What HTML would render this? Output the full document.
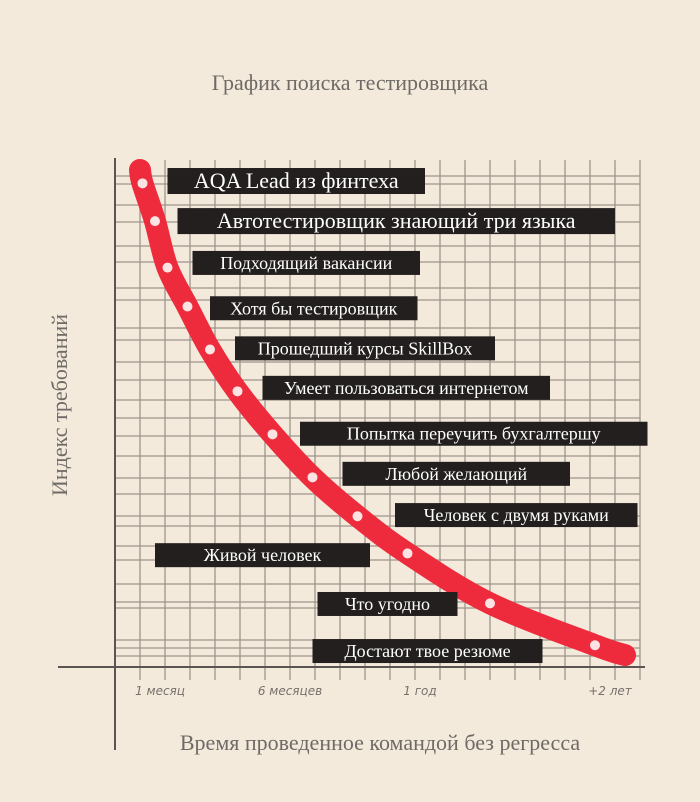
<!DOCTYPE html>
<html><head><meta charset="utf-8"><style>
body{margin:0;width:700px;height:802px;background:#f4eadc;overflow:hidden}
svg{display:block}
</style></head><body>
<svg width="700" height="802" xmlns="http://www.w3.org/2000/svg">
<rect x="0" y="0" width="700" height="802" fill="#f4eadc"/>
<g id="grid"></g>
<line x1="115" y1="158" x2="115" y2="750" stroke="#5a5550" stroke-width="2"/>
<line x1="58" y1="667" x2="645" y2="667" stroke="#5a5550" stroke-width="2"/>
<text x="350" y="90" text-anchor="middle" font-family="Liberation Serif, serif" font-size="22" fill="#6e6a66">График поиска тестировщика</text>
<text x="0" y="0" transform="translate(67,405) rotate(-90)" text-anchor="middle" font-family="Liberation Serif, serif" font-size="22" fill="#6e6a66">Индекс требований</text>
<text x="380" y="750" text-anchor="middle" font-family="Liberation Serif, serif" font-size="22" fill="#6e6a66">Время проведенное командой без регресса</text>
<g id="ticks"></g>
<g id="series"></g>
<g id="labels"></g>
</svg>
<script>
const tickLabels=["1 месяц","6 месяцев","1 год","+2 лет"];
const tickPos=[1.8,7,12.2,19.8];
const xs=[1.1,1.6,2.1,2.9,3.8,4.9,6.3,7.9,9.7,11.7,15,19.2];
const ys=[96.5,90,82,75.3,67.9,60.7,53.3,45.9,39.2,32.8,24.2,17];
const curveStart=[1,98.8];const curveEnd=[20.4,15.3];
const labelTexts=["AQA Lead из финтеха","Автотестировщик знающий три языка","Подходящий вакансии","Хотя бы тестировщик","Прошедший курсы SkillBox","Умеет пользоваться интернетом","Попытка переучить бухгалтершу","Любой желающий","Человек с двумя руками","Живой человек","Что угодно","Достают твое резюме"];
const labelX0=[2.1,2.5,3.1,3.8,4.8,5.9,7.4,9.1,11.2,1.6,8.1,7.9];
const labelX1=[12.4,20,12.2,12.1,15.2,17.4,21.3,18.2,20.9,10.2,13.7,17.1];
const labelY=[96.9,90,82.8,75,68.1,61.3,53.4,46.5,39.4,32.5,24.1,16];

const X=v=>115+v*25;            // time axis
const Y=v=>744-v*5.81;          // index axis
const NS="http://www.w3.org/2000/svg";
function mk(t,a,p){const e=document.createElementNS(NS,t);for(const k in a)e.setAttribute(k,a[k]);p.appendChild(e);return e;}
const grid=document.getElementById('grid');
for(let i=0;i<=21;i++){const l=mk('line',{x1:X(i),x2:X(i),y1:160,y2:680,stroke:'#9d958c','stroke-width':1.3},grid);

}
const hy=[176,184,205,222,246,262,288,300,328,340,362,380,400,418,436,456,478,494,516,526,546,560,584,602,608,640,648,656];
hy.forEach(y=>{const l=mk('line',{x1:115,x2:640,y1:y,y2:y,stroke:'#9d958c','stroke-width':1.3},grid);

});
const ticks=document.getElementById('ticks');
tickLabels.forEach((t,i)=>{const e=mk('text',{x:X(tickPos[i]),y:695,'text-anchor':'middle','font-family':'DejaVu Sans, sans-serif','font-size':12,'font-style':'italic',fill:'#77716b'},ticks);e.textContent=t;

});
const s=document.getElementById('series');
const pts=[curveStart].concat(xs.map((x,i)=>[x,ys[i]])).concat([curveEnd]);
let d=`M${X(pts[0][0])},${Y(pts[0][1])}`;
for(let i=1;i<pts.length;i++){const p0=pts[Math.max(i-2,0)],p1=pts[i-1],p2=pts[i],p3=pts[Math.min(i+1,pts.length-1)];
const c1=[X(p1[0])+(X(p2[0])-X(p0[0]))/6,Y(p1[1])+(Y(p2[1])-Y(p0[1]))/6];
const c2=[X(p2[0])-(X(p3[0])-X(p1[0]))/6,Y(p2[1])-(Y(p3[1])-Y(p1[1]))/6];
d+=` C${c1[0]},${c1[1]} ${c2[0]},${c2[1]} ${X(p2[0])},${Y(p2[1])}`;}
const path=mk('path',{d:d,fill:'none',stroke:'#ee2b3c','stroke-width':22,'stroke-linecap':'round'},s);


xs.forEach((x,i)=>{const c=mk('circle',{cx:X(x),cy:Y(ys[i]),r:5,fill:'#fbe3e3'},s);

});
const lg=document.getElementById('labels');
labelTexts.forEach((t,i)=>{const x0=X(labelX0[i]),x1=X(labelX1[i]),yc=Y(labelY[i]);const big=i<2;const h=big?26:24;
const g=mk('g',{},lg);


mk('rect',{x:x0,y:yc-h/2,width:x1-x0,height:h,fill:'#231f1e'},g);
const e=mk('text',{x:(x0+x1)/2,y:yc+(big?7:6),'text-anchor':'middle','font-family':'Liberation Serif, serif','font-size':big?22:18,fill:'#fff'},g);e.textContent=t;});
</script>
</body></html>
